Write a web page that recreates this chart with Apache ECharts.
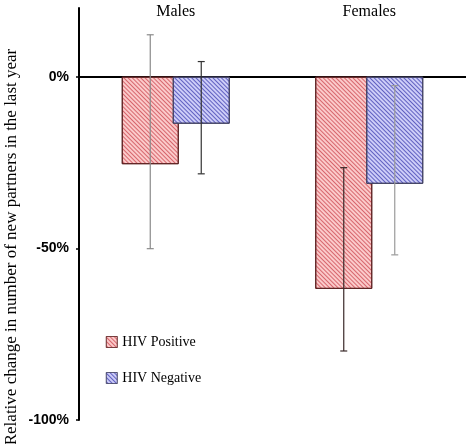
<!DOCTYPE html>
<html><head><meta charset="utf-8">
<script src="https://cdn.jsdelivr.net/npm/echarts@6/dist/echarts.min.js"></script>
<style>html,body{margin:0;padding:0;background:#fff}#c{width:466px;height:444px}</style>
</head><body><div id="c"></div>
<script>
const categories = ['Males', 'Females'];
const hivPositive = [-25.5, -61.8];
const hivNegative = [-13.7, -31.2];
const posErrLow = [-50.1, -79.9];
const posErrHigh = [12.2, -26.5];
const negErrLow = [-28.3, -51.9];
const negErrHigh = [4.4, -2.6];
const yTicks = [-100, -50, 0];

const BAR_W = 57, GAP_PX = -6;
const OFF = (BAR_W + GAP_PX) / 2;
const posErrColors = ['#8a8a8a', '#3a2a2a'];
const negErrColors = ['#333333', '#9a9a9a'];

function errSeries(name, low, high, offset, colors) {
  return {
    type: 'custom', name: name + ' err', xAxisIndex: 0, yAxisIndex: 0, z: 10,
    silent: true, legendHoverLink: false,
    data: categories.map((c, i) => [i, low[i], high[i]]),
    renderItem: function (params, api) {
      const i = api.value(0);
      const lo = api.coord([i, api.value(1)]);
      const hi = api.coord([i, api.value(2)]);
      const x = lo[0] + offset;
      const cap = 3.5;
      const st = { stroke: colors[params.dataIndex], lineWidth: 1.2 };
      return { type: 'group', children: [
        { type: 'line', shape: { x1: x, y1: hi[1], x2: x, y2: lo[1] }, style: st },
        { type: 'line', shape: { x1: x - cap, y1: hi[1], x2: x + cap, y2: hi[1] }, style: st },
        { type: 'line', shape: { x1: x - cap, y1: lo[1], x2: x + cap, y2: lo[1] }, style: st }
      ]};
    }
  };
}

const chart = echarts.init(document.getElementById('c'), null, { renderer: 'canvas' });
chart.setOption({
  animation: false,
  backgroundColor: '#fff',
  grid: { left: 79, right: 0, top: 8, bottom: 24, containLabel: false },
  legend: {
    orient: 'vertical', left: 101, top: 330, itemWidth: 11, itemHeight: 11, itemGap: 22,
    icon: 'rect',
    data: ['HIV Positive', 'HIV Negative'],
    itemStyle: { borderWidth: 0.6 },
    textStyle: { fontFamily: 'Liberation Serif', fontSize: 14, color: '#000' }
  },
  xAxis: [
    { type: 'category', data: categories, position: 'bottom',
      axisLine: { onZero: true, lineStyle: { color: '#000', width: 2 } },
      axisTick: { show: false }, axisLabel: { show: false } },
    { type: 'category', data: categories, position: 'top',
      axisLine: { show: false }, axisTick: { show: false },
      axisLabel: { margin: -12, fontFamily: 'Liberation Serif', fontSize: 16, color: '#000' } }
  ],
  yAxis: {
    type: 'value', min: -100, max: 20, interval: 50,
    axisLine: { show: true, lineStyle: { color: '#000', width: 2 } },
    axisTick: { show: true, length: 3, customValues: yTicks, lineStyle: { color: '#000', width: 1.5 } },
    splitLine: { show: false },
    axisLabel: { customValues: yTicks, margin: 10, fontFamily: 'Liberation Sans', fontWeight: 'bold', fontSize: 14, color: '#000',
      formatter: v => v + '%' }
  },
  graphic: [{
    type: 'text', x: 12, y: 247, rotation: Math.PI / 2,
    style: { text: 'Relative change in number of new partners in the last year',
      font: '17px "Liberation Serif"', fill: '#000', align: 'center', verticalAlign: 'middle' }
  }],
  series: [
    { type: 'bar', name: 'HIV Positive', data: hivPositive, barWidth: BAR_W, barGap: (GAP_PX / BAR_W * 100) + '%',
      itemStyle: { color: '#fbcaca', borderColor: '#5a2020', borderWidth: 1,
        decal: { symbol: 'rect', symbolSize: 1, dashArrayX: [1, 0], dashArrayY: [1, 1.2], rotation: Math.PI / 4, color: 'rgba(200,60,70,0.7)' } } },
    { type: 'bar', name: 'HIV Negative', data: hivNegative, barWidth: BAR_W,
      itemStyle: { color: '#cdcdf8', borderColor: '#404060', borderWidth: 1,
        decal: { symbol: 'rect', symbolSize: 1, dashArrayX: [1, 0], dashArrayY: [1, 1.2], rotation: Math.PI / 4, color: 'rgba(50,50,170,0.7)' } } },
    errSeries('HIV Positive', posErrLow, posErrHigh, -OFF, posErrColors),
    errSeries('HIV Negative', negErrLow, negErrHigh, OFF, negErrColors)
  ]
});
</script></body></html>
